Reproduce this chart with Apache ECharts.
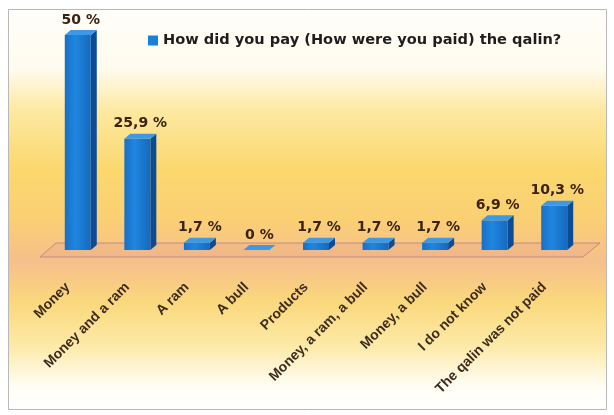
<!DOCTYPE html>
<html>
<head>
<meta charset="utf-8">
<script src="https://cdn.jsdelivr.net/npm/echarts@6/dist/echarts.min.js"></script>
<style>
  html, body { margin: 0; padding: 0; background: #fff; }
  #chart { width: 614px; height: 415px; }
</style>
</head>
<body>
<div id="chart"></div>
<script>
  // answers and shares (%)
  var categories = ['Money', 'Money and a ram', 'A ram', 'A bull', 'Products',
    'Money, a ram, a bull', 'Money, a bull', 'I do not know', 'The qalin was not paid'];
  var values = [50, 25.9, 1.7, 0, 1.7, 1.7, 1.7, 6.9, 10.3];
  var seriesName = 'How did you pay (How were you paid) the qalin?';

  var chart = echarts.init(document.getElementById('chart'));

  function fmt(v) {
    return String(v).replace('.', ',') + ' %';
  }

  // 3d-ish column: front face, side face, top face and value label
  function renderBar(params, api) {
    var idx = api.value(0);
    var val = api.value(1);
    var top = api.coord([idx, val]);
    var base = api.coord([idx, 0]);
    var w = 26, dx = 6, dy = 5;
    var x0 = top[0] - w / 2 - 2, x1 = x0 + w;
    var yt = top[1], yb = base[1];
    return {
      type: 'group',
      children: [
        {
          type: 'polygon',
          shape: { points: [[x1, yt], [x1 + dx, yt - dy], [x1 + dx, yb - dy], [x1, yb]] },
          style: { fill: '#0d4c95' }
        },
        {
          type: 'rect',
          shape: { x: x0, y: yt, width: w, height: yb - yt },
          style: {
            fill: new echarts.graphic.LinearGradient(0, 0, 1, 0, [
              { offset: 0, color: '#1a6fc4' },
              { offset: 0.4, color: '#1f86e0' },
              { offset: 1, color: '#1669bd' }
            ])
          }
        },
        {
          type: 'polygon',
          shape: { points: [[x0, yt], [x0 + dx, yt - dy], [x1 + dx, yt - dy], [x1, yt]] },
          style: { fill: '#3d98e6' }
        },
        {
          type: 'text',
          style: {
            text: fmt(val),
            x: x0 + w / 2 + dx / 2,
            y: yt - 15,
            align: 'center',
            verticalAlign: 'middle',
            fill: '#3a2212',
            font: 'bold 14px "DejaVu Sans"'
          }
        }
      ]
    };
  }

  chart.setOption({
    backgroundColor: '#fff',
    animation: false,
    graphic: [
      {
        type: 'rect',
        z: -10,
        shape: { x: 8.5, y: 9.5, width: 598, height: 400 },
        style: {
          stroke: '#b8b8b8',
          lineWidth: 1,
          fill: new echarts.graphic.LinearGradient(0, 0, 0, 1, [
            { offset: 0, color: '#fffef9' },
            { offset: 0.15, color: '#fffbee' },
            { offset: 0.25, color: '#fde9a2' },
            { offset: 0.4, color: '#fbd86e' },
            { offset: 0.52, color: '#fad073' },
            { offset: 0.63, color: '#f6bf8c' },
            { offset: 0.73, color: '#fad87c' },
            { offset: 0.84, color: '#fdeaa8' },
            { offset: 0.94, color: '#fffdf4' },
            { offset: 1, color: '#ffffff' }
          ])
        }
      },
      {
        type: 'polygon',
        z: -5,
        shape: { points: [[40, 257], [583, 257], [600, 243], [56, 243]] },
        style: { fill: 'rgba(225,150,140,0.22)', stroke: 'rgba(170,120,130,0.7)', lineWidth: 1 }
      }
    ],
    legend: {
      left: 143,
      top: 28,
      itemWidth: 10,
      itemHeight: 10,
      itemGap: 5,
      icon: 'rect',
      textStyle: { fontFamily: 'DejaVu Sans', fontWeight: 'bold', fontSize: 14.6, color: '#1e1e1e' },
      data: [{ name: seriesName, itemStyle: { color: '#1a7fd8' } }]
    },
    grid: { left: 50, right: 28, top: 35, bottom: 165, containLabel: false },
    xAxis: {
      type: 'category',
      data: categories,
      axisLine: { show: false },
      axisTick: { show: false },
      axisLabel: {
        interval: 0,
        rotate: 45,
        margin: 23,
        padding: [0, 17, 0, 0],
        fontFamily: 'Liberation Sans',
        fontWeight: 'bold',
        fontSize: 14,
        color: '#3d2b1f'
      }
    },
    yAxis: {
      type: 'value',
      min: 0,
      max: 50,
      show: false
    },
    series: [
      {
        name: seriesName,
        type: 'custom',
        renderItem: renderBar,
        itemStyle: { color: '#1a7fd8' },
        data: values.map(function (v, i) { return [i, v]; })
      }
    ]
  });
</script>
</body>
</html>
